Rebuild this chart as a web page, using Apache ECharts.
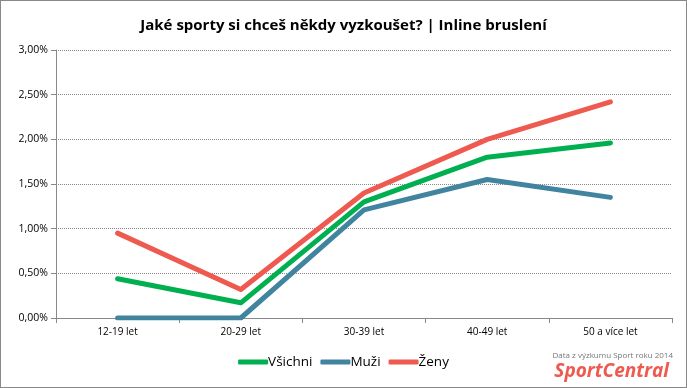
<!DOCTYPE html>
<html><head><meta charset="utf-8">
<script src="https://cdn.jsdelivr.net/npm/echarts@6/dist/echarts.min.js"></script>
<style>html,body{margin:0;padding:0;background:#fff}#c{width:687px;height:388px;box-sizing:border-box;border:1px solid #888}</style>
</head><body><div id="c"></div>
<script>
const categories = ['12-19 let','20-29 let','30-39 let','40-49 let','50 a více let'];
const vsichni = [0.44, 0.17, 1.30, 1.80, 1.96];
const muzi = [0.00, 0.00, 1.21, 1.55, 1.35];
const zeny = [0.95, 0.32, 1.40, 2.00, 2.42];
const yTicks = [0, 0.5, 1, 1.5, 2, 2.5, 3];
const F = '"Open Sans", "DejaVu Sans", sans-serif';
const chart = echarts.init(document.getElementById('c'), null, {renderer:'canvas'});
function s(name, data, color){
  return {name, type:'line', data, symbol:'none', lineStyle:{width:5, color, cap:'round', join:'round'}, itemStyle:{color}, z: 3};
}
chart.setOption({
  animation:false,
  title:{text:'Jaké sporty si chceš někdy vyzkoušet? | Inline bruslení', left:'center', top:12,
    textStyle:{fontFamily:F, fontWeight:'bold', fontSize:15, color:'#000'}},
  legend:{bottom:13, left:'center', itemWidth:30, itemHeight:5, itemGap:8, icon:'roundRect',
    textStyle:{fontFamily:F, fontSize:13.5, color:'#000', padding:[0,0,0,-5]},
    data:['Všichni','Muži','Ženy']},
  grid:{left:55, right:14, top:49, bottom:69, containLabel:false},
  xAxis:{type:'category', data:categories, boundaryGap:true,
    axisLine:{lineStyle:{color:'#888'}}, axisTick:{show:true, length:5, lineStyle:{color:'#888'}},
    axisLabel:{fontFamily:F, fontSize:10, color:'#000', margin:9}},
  yAxis:{type:'value', min:0, max:3, interval:0.5,
    axisLine:{show:true, lineStyle:{color:'#888'}}, axisTick:{show:true, length:5, lineStyle:{color:'#888'}},
    splitLine:{lineStyle:{type:[1,1], color:'#888'}},
    axisLabel:{fontFamily:F, fontSize:10.5, color:'#000', margin:8, formatter:v=>v.toFixed(2).replace('.',',')+'%'}},
  series:[s('Všichni', vsichni, '#00B050'), s('Muži', muzi, '#41849F'), s('Ženy', zeny, '#EE5A4F')],
  graphic:[
    {type:'text', right:13, bottom:27, style:{text:'Data z výzkumu Sport roku 2014', fontFamily:F, fontSize:8, fill:'#777'}},
    {type:'text', right:17, bottom:6, style:{text:'SportCentral', fontFamily:F, fontSize:19, fontWeight:'bold', fontStyle:'italic', fill:'#EE5A4F'}}
  ]
});
</script></body></html>
